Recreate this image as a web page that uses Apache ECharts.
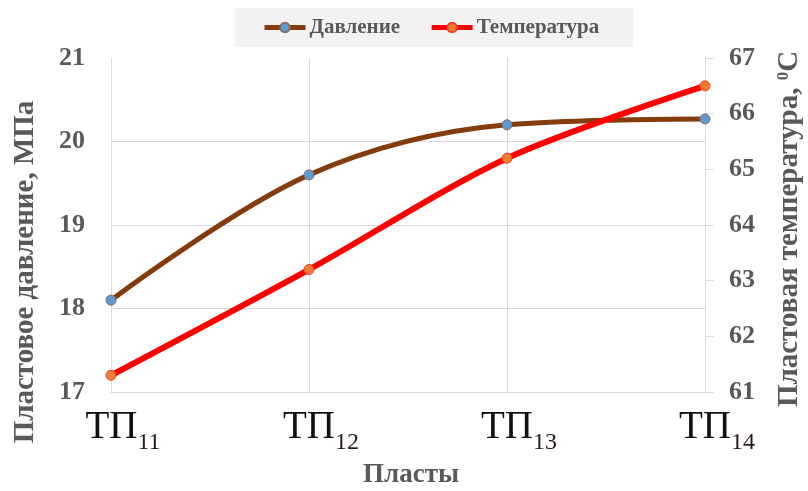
<!DOCTYPE html>
<html>
<head>
<meta charset="utf-8">
<script src="https://cdn.jsdelivr.net/npm/echarts@6/dist/echarts.min.js"></script>
<style>
  html, body { margin: 0; padding: 0; background: #fff; }
  #chart { width: 808px; height: 491px; }
</style>
</head>
<body>
<div id="chart"></div>
<script>
// пласты
var categories = ['ТП11', 'ТП12', 'ТП13', 'ТП14'];
// пластовое давление, МПа
var pressure = [18.1, 19.6, 20.2, 20.27];
// пластовая температура, °C
var temperature = [61.3, 63.2, 65.2, 66.5];

var leftTicks = { min: 17, max: 21, interval: 1 };
var rightTicks = { min: 61, max: 67, interval: 1 };

var myChart = echarts.init(document.getElementById('chart'));
var serif = '"Liberation Serif", "Times New Roman", serif';
var grey = '#595959';

var option = {
  animation: false,
  backgroundColor: '#fff',
  grid: { left: 111, right: 103, top: 58, bottom: 99 },
  legend: {
    left: 235,
    top: 8,
    padding: [9, 34, 9, 27],
    backgroundColor: '#f2f2f2',
    itemWidth: 41,
    itemHeight: 12,
    itemGap: 29,
    textStyle: { fontFamily: serif, fontWeight: 'bold', fontSize: 21, color: grey, padding: [0, 0, 0, -1] },
    data: [
      { name: 'Давление', lineStyle: { width: 5 } },
      { name: 'Температура', lineStyle: { width: 5 } }
    ]
  },
  xAxis: {
    type: 'category',
    data: categories,
    boundaryGap: false,
    axisLine: { lineStyle: { color: '#d9d9d9', width: 1 } },
    axisTick: { show: false },
    splitLine: { show: true, lineStyle: { color: '#d9d9d9' } },
    axisLabel: {
      margin: 16,
      formatter: function (v) {
        return '{a|' + v.slice(0, 2) + '}{b|' + v.slice(2) + '}';
      },
      rich: {
        a: { fontFamily: serif, fontSize: 39, color: '#111', padding: [0, 0, 8, 24], verticalAlign: 'bottom' },
        b: { fontFamily: serif, fontSize: 24, color: '#2a1a1a', verticalAlign: 'bottom' }
      }
    }
  },
  yAxis: [
    {
      type: 'value',
      min: leftTicks.min,
      max: leftTicks.max,
      interval: leftTicks.interval,
      axisLine: { show: true, lineStyle: { color: '#d9d9d9' } },
      axisTick: { show: false },
      splitLine: { show: true, showMaxLine: false, lineStyle: { color: '#d9d9d9' } },
      axisLabel: { margin: 26, fontFamily: serif, fontWeight: 'bold', fontSize: 26, color: grey }
    },
    {
      type: 'value',
      position: 'right',
      min: rightTicks.min,
      max: rightTicks.max,
      interval: rightTicks.interval,
      axisLine: { show: true, lineStyle: { color: '#d9d9d9' } },
      axisTick: { show: true, inside: false, length: 9, lineStyle: { color: '#d9d9d9' } },
      splitLine: { show: false },
      axisLabel: { margin: 24, fontFamily: serif, fontWeight: 'bold', fontSize: 26, color: grey }
    }
  ],
  graphic: [
    {
      type: 'text',
      x: 26, y: 272,
      rotation: Math.PI / 2,
      style: {
        text: 'Пластовое давление, МПа',
        fontFamily: serif, fontWeight: 'bold', fontSize: 29, fill: grey,
        align: 'center', verticalAlign: 'middle'
      }
    },
    {
      type: 'text',
      x: 790, y: 229,
      rotation: Math.PI / 2,
      style: {
        text: '{a|Пластовая температура, }{s|0}{a|C}',
        align: 'center', verticalAlign: 'middle',
        rich: {
          a: { fontFamily: serif, fontWeight: 'bold', fontSize: 29, fill: grey, color: grey },
          s: { fontFamily: serif, fontWeight: 'bold', fontSize: 17, fill: grey, color: grey, verticalAlign: 'top' }
        }
      }
    },
    {
      type: 'text',
      x: 411, y: 475,
      style: {
        text: 'Пласты',
        fontFamily: serif, fontWeight: 'bold', fontSize: 27, fill: grey,
        align: 'center', verticalAlign: 'middle'
      }
    }
  ],
  series: [
    {
      name: 'Давление',
      type: 'line',
      yAxisIndex: 0,
      data: pressure,
      smooth: 0.35,
      symbol: 'circle',
      symbolSize: 10,
      lineStyle: { color: '#843c0c', width: 5 },
      itemStyle: { color: '#5b9bd5', borderColor: '#8a6a5a', borderWidth: 1 }
    },
    {
      name: 'Температура',
      type: 'line',
      yAxisIndex: 1,
      data: temperature,
      smooth: 0.3,
      symbol: 'circle',
      symbolSize: 10,
      lineStyle: { color: '#ff0000', width: 6 },
      itemStyle: { color: '#ed7d31', borderColor: '#ff3b2a', borderWidth: 1 }
    }
  ]
};
myChart.setOption(option);
</script>
</body>
</html>
